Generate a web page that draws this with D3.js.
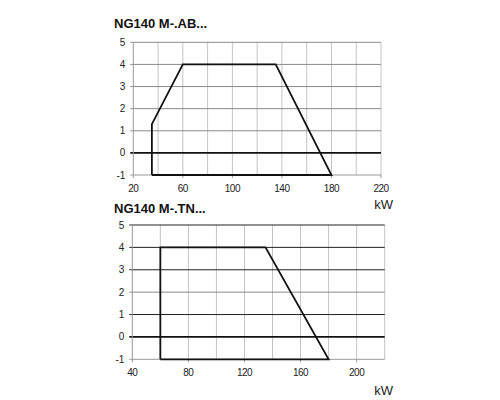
<!DOCTYPE html>
<html><head><meta charset="utf-8">
<script src="https://cdn.jsdelivr.net/npm/d3@7"></script>
<style>body{margin:0;background:#fff}text{font-family:Arial,"Liberation Sans",sans-serif}</style>
</head><body>
<script>
// Chart 1: NG140 M-.AB...
const title1 = "NG140 M-.AB...";
const kw1 = [35, 35, 60, 135, 180, 35];
const mbar1 = [-1, 1.3, 4, 4, -1, -1];
const xTicks1 = [20, 60, 100, 140, 180, 220];
const yTicks = [-1, 0, 1, 2, 3, 4, 5];

// Chart 2: NG140 M-.TN...
const title2 = "NG140 M-.TN...";
const kw2 = [60, 60, 135, 180, 60];
const mbar2 = [-1, 4, 4, -1, -1];
const xTicks2 = [40, 80, 120, 160, 200];

const unit = "kW";

const svg = d3.select("body").append("svg").attr("width", 500).attr("height", 400);

function chart(cfg) {
  const x = d3.scaleLinear().domain(cfg.xdom).range([cfg.x0, cfg.x1]);
  const y = d3.scaleLinear().domain([-1, 5]).range([cfg.y0, cfg.y1]);
  const g = svg.append("g");
  // vertical grid every 20
  const vg = d3.range(cfg.xdom[0] + 20, cfg.xdom[1] + 1, 20);
  g.selectAll(".vg").data(vg).join("line")
    .attr("x1", d => x(d)).attr("x2", d => x(d))
    .attr("y1", y(-1)).attr("y2", y(5))
    .attr("stroke", "#c4c4c4").attr("stroke-width", 1);
  // horizontal grid
  g.selectAll(".hg").data(yTicks.filter(d => d > -1 && d !== 0)).join("line")
    .attr("x1", x(cfg.xdom[0]) - 3).attr("x2", x(cfg.xdom[1]))
    .attr("y1", d => y(d)).attr("y2", d => y(d))
    .attr("stroke", d => cfg.hcol(d)).attr("stroke-width", 1);
  // zero line
  g.append("line").attr("x1", x(cfg.xdom[0]) - 3).attr("x2", x(cfg.xdom[1]))
    .attr("y1", y(0)).attr("y2", y(0)).attr("stroke", "#111").attr("stroke-width", 1.8);
  // left axis
  g.append("line").attr("x1", x(cfg.xdom[0])).attr("x2", x(cfg.xdom[0]))
    .attr("y1", y(-1)).attr("y2", y(5)).attr("stroke", "#999");
  // bottom axis
  g.append("line").attr("x1", x(cfg.xdom[0]) - 3).attr("x2", x(cfg.xdom[1]))
    .attr("y1", y(-1)).attr("y2", y(-1)).attr("stroke", "#999");
  // x tick marks
  g.selectAll(".xt").data(cfg.xticks).join("line")
    .attr("x1", d => x(d)).attr("x2", d => x(d))
    .attr("y1", y(-1)).attr("y2", y(-1) + 3).attr("stroke", "#999");
  // polygon
  const line = d3.line().x(d => x(d[0])).y(d => y(d[1]));
  g.append("path").datum(cfg.xs.map((v, i) => [v, cfg.ys[i]]))
    .attr("d", line).attr("fill", "none").attr("stroke", "#111")
    .attr("stroke-width", 1.8).attr("stroke-linejoin", "miter");
  // y labels
  g.selectAll(".yl").data(yTicks).join("text")
    .attr("x", x(cfg.xdom[0]) - 8).attr("y", d => y(d) + 3.5)
    .attr("text-anchor", "end").attr("font-size", 10).attr("fill", "#222")
    .text(d => d);
  // x labels
  g.selectAll(".xl").data(cfg.xticks).join("text")
    .attr("x", d => x(d)).attr("y", y(-1) + 17)
    .attr("text-anchor", "middle").attr("font-size", 10).attr("fill", "#222")
    .attr("letter-spacing", -0.5)
    .text(d => d);
  // title
  g.append("text").attr("x", 114).attr("y", cfg.ty)
    .attr("font-size", 13).attr("font-weight", "bold").attr("fill", "#111")
    .text(cfg.title);
  // unit
  g.append("text").attr("x", 393).attr("y", cfg.uy).attr("text-anchor", "end")
    .attr("font-size", 13).attr("fill", "#222").text(unit);
}

chart({xdom: [20, 220], x0: 133.3, x1: 381, y0: 175, y1: 42.3,
  xs: kw1, ys: mbar1, xticks: xTicks1, title: title1, ty: 28, uy: 209,
  hcol: d => "#8a8a8a"});
chart({xdom: [40, 220], x0: 132.3, x1: 384.7, y0: 359.3, y1: 225,
  xs: kw2, ys: mbar2, xticks: xTicks2, title: title2, ty: 213, uy: 395,
  hcol: d => d === 2 ? "#8a8a8a" : "#222"});
</script>
</body></html>
